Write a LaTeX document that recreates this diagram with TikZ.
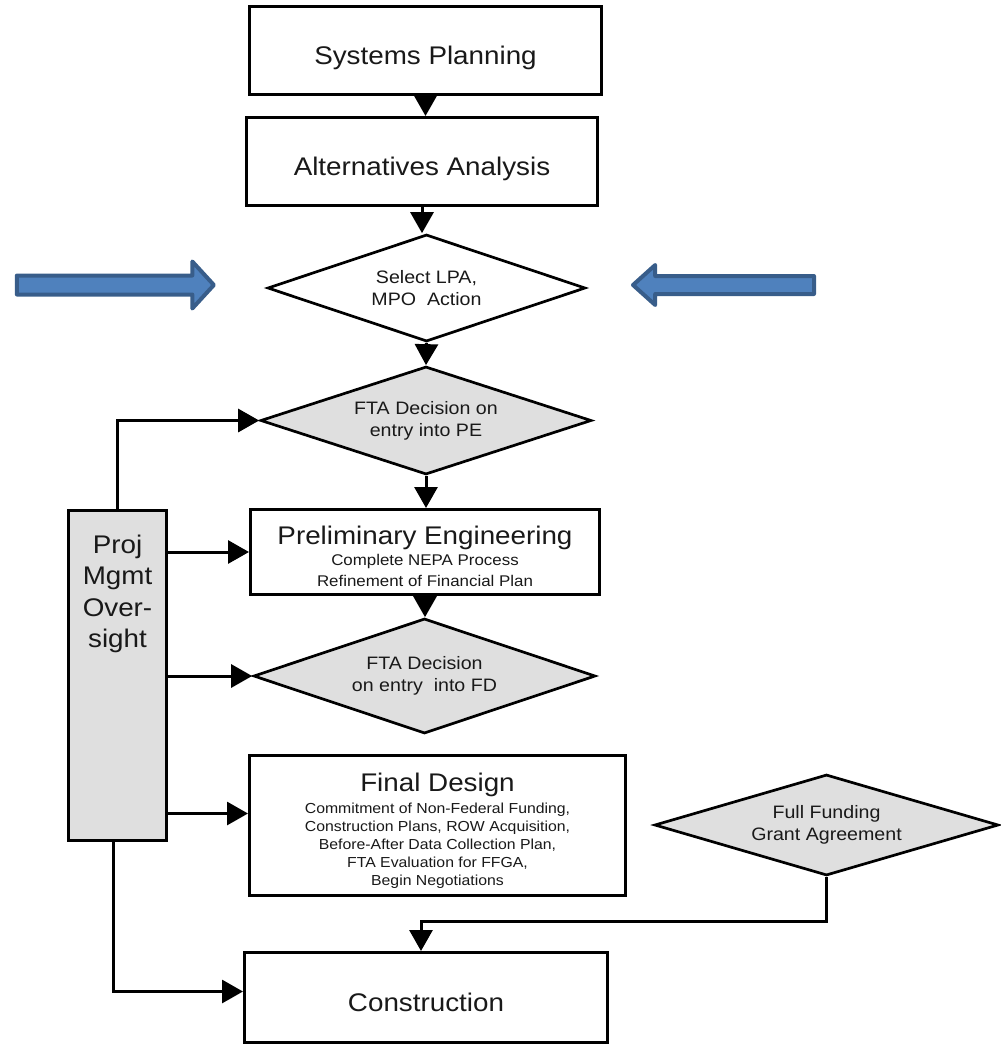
\documentclass[tikz,border=0pt]{standalone}
\usepackage{fontspec}
\setmainfont{Liberation Sans}[FakeStretch=1.09]
\usetikzlibrary{arrows.meta,shapes.geometric,shapes.arrows}
\definecolor{boxgray}{RGB}{223,223,223}
\definecolor{bluefill}{RGB}{79,129,189}
\definecolor{blueedge}{RGB}{56,93,138}
\newcommand{\myfs}[2]{\fontsize{#1}{#2}\selectfont}
\begin{document}
\begin{tikzpicture}[x=1pt,y=-1pt,
  box/.style={draw=black, line width=3pt, rectangle, inner sep=0pt, align=center, fill=white, text=black!90},
  dec/.style={draw=black, line width=2.7pt, diamond, inner sep=0pt, aspect=3, align=center, fill=boxgray, text=black!90},
  conn/.style={line width=3pt, -{Triangle[length=21pt,width=23pt]}},
  bigarrow/.style={single arrow, draw=blueedge, fill=bluefill, line width=4pt, line join=round, inner xsep=0pt, minimum width=0pt},
  title/.style={font=\myfs{25.5}{30}, text height=28pt, text depth=0pt},
  small/.style={font=\myfs{18}{22}}
]
\useasboundingbox (0,0) rectangle (1001,1045);

% process boxes
\node[box, title, minimum width=352pt, minimum height=88pt] (sp) at (425.5,50.5) {Systems Planning};
\node[box, title, minimum width=351pt, minimum height=88pt] (aa) at (422,161.5) {Alternatives Analysis};
\node[dec, small, fill=white, minimum width=318pt, minimum height=107pt] (lpa) at (426.5,288) {Select LPA,\\MPO~ Action};
\node[dec, small, minimum width=331pt, minimum height=108pt] (ped) at (426,420.5) {FTA Decision on\\entry into PE};
\node[box, font=\myfs{15.5}{20.5}, minimum width=349pt, minimum height=85pt] (pre) at (425,552)
  {{\myfs{25.5}{24}\rule{0pt}{27pt}Preliminary Engineering}\\[1pt]Complete NEPA Process\\Refinement of Financial Plan};
\node[dec, small, minimum width=342pt, minimum height=115pt] (fdd) at (424.5,676) {FTA Decision\\on entry~ into FD};
\node[box, font=\myfs{14.5}{18}, minimum width=376pt, minimum height=140pt] (fin) at (437.5,825.5)
  {{\myfs{25.5}{24}\rule{0pt}{29pt}Final Design}\\[4pt]Commitment of Non-Federal Funding,\\Construction Plans, ROW Acquisition,\\Before-After Data Collection Plan,\\FTA Evaluation for FFGA,\\Begin Negotiations};
\node[box, title, minimum width=363pt, minimum height=90pt] (con) at (426,997.5) {Construction};
\node[dec, small, minimum width=344pt, minimum height=101pt] (ffga) at (826.5,825) {Full Funding\\Grant Agreement};

% project management oversight
\node[box, fill=boxgray, minimum width=98pt, minimum height=330pt] (pmo) at (117.5,675.5) {};
\node[align=center, font=\myfs{25.5}{31.5}, text=black!90] (pmotext) at (117.5,594) {Proj\\Mgmt\\Over-\\sight};

% blue arrows
\node[bigarrow, inner ysep=7.5pt, single arrow head extend=14pt, single arrow tip angle=95, minimum height=197pt] (bl) at (111,285) {};
\node[bigarrow, inner ysep=7pt, single arrow head extend=11pt, single arrow tip angle=84, minimum height=181pt, shape border rotate=180] (br) at (728.5,285) {};

% helper coordinates
\coordinate (finin) at ([yshift=12pt]fin.west);
\coordinate (conin) at ([yshift=6pt]con.west);
\coordinate (conup) at ([xshift=-5pt]con.north);
\coordinate (pmobot) at ([xshift=-4pt]pmo.south);
\coordinate (j) at ([yshift=-45pt]ffga.south);

% main flow
\draw[conn] (sp.south) -- (sp.south |- aa.north);
\draw[conn] (aa.south) -- (aa.south |- lpa.north);
\draw[conn] (lpa.south) -- (ped.north);
\draw[conn] (ped.south) -- (ped.south |- pre.north);
\draw[conn] (pre.south) -- (pre.south |- fdd.north);

% oversight connectors
\draw[conn] (pmo.north) |- (ped.west);
\draw[conn] (pmo.east |- pre.west) -- (pre.west);
\draw[conn] (pmo.east |- fdd.west) -- (fdd.west);
\draw[conn] (pmo.east |- finin) -- (finin);
\draw[conn] (pmobot) |- (conin);

% FFGA to construction
\draw[conn] (ffga.south) -- (j) -| (conup);
\end{tikzpicture}
\end{document}
